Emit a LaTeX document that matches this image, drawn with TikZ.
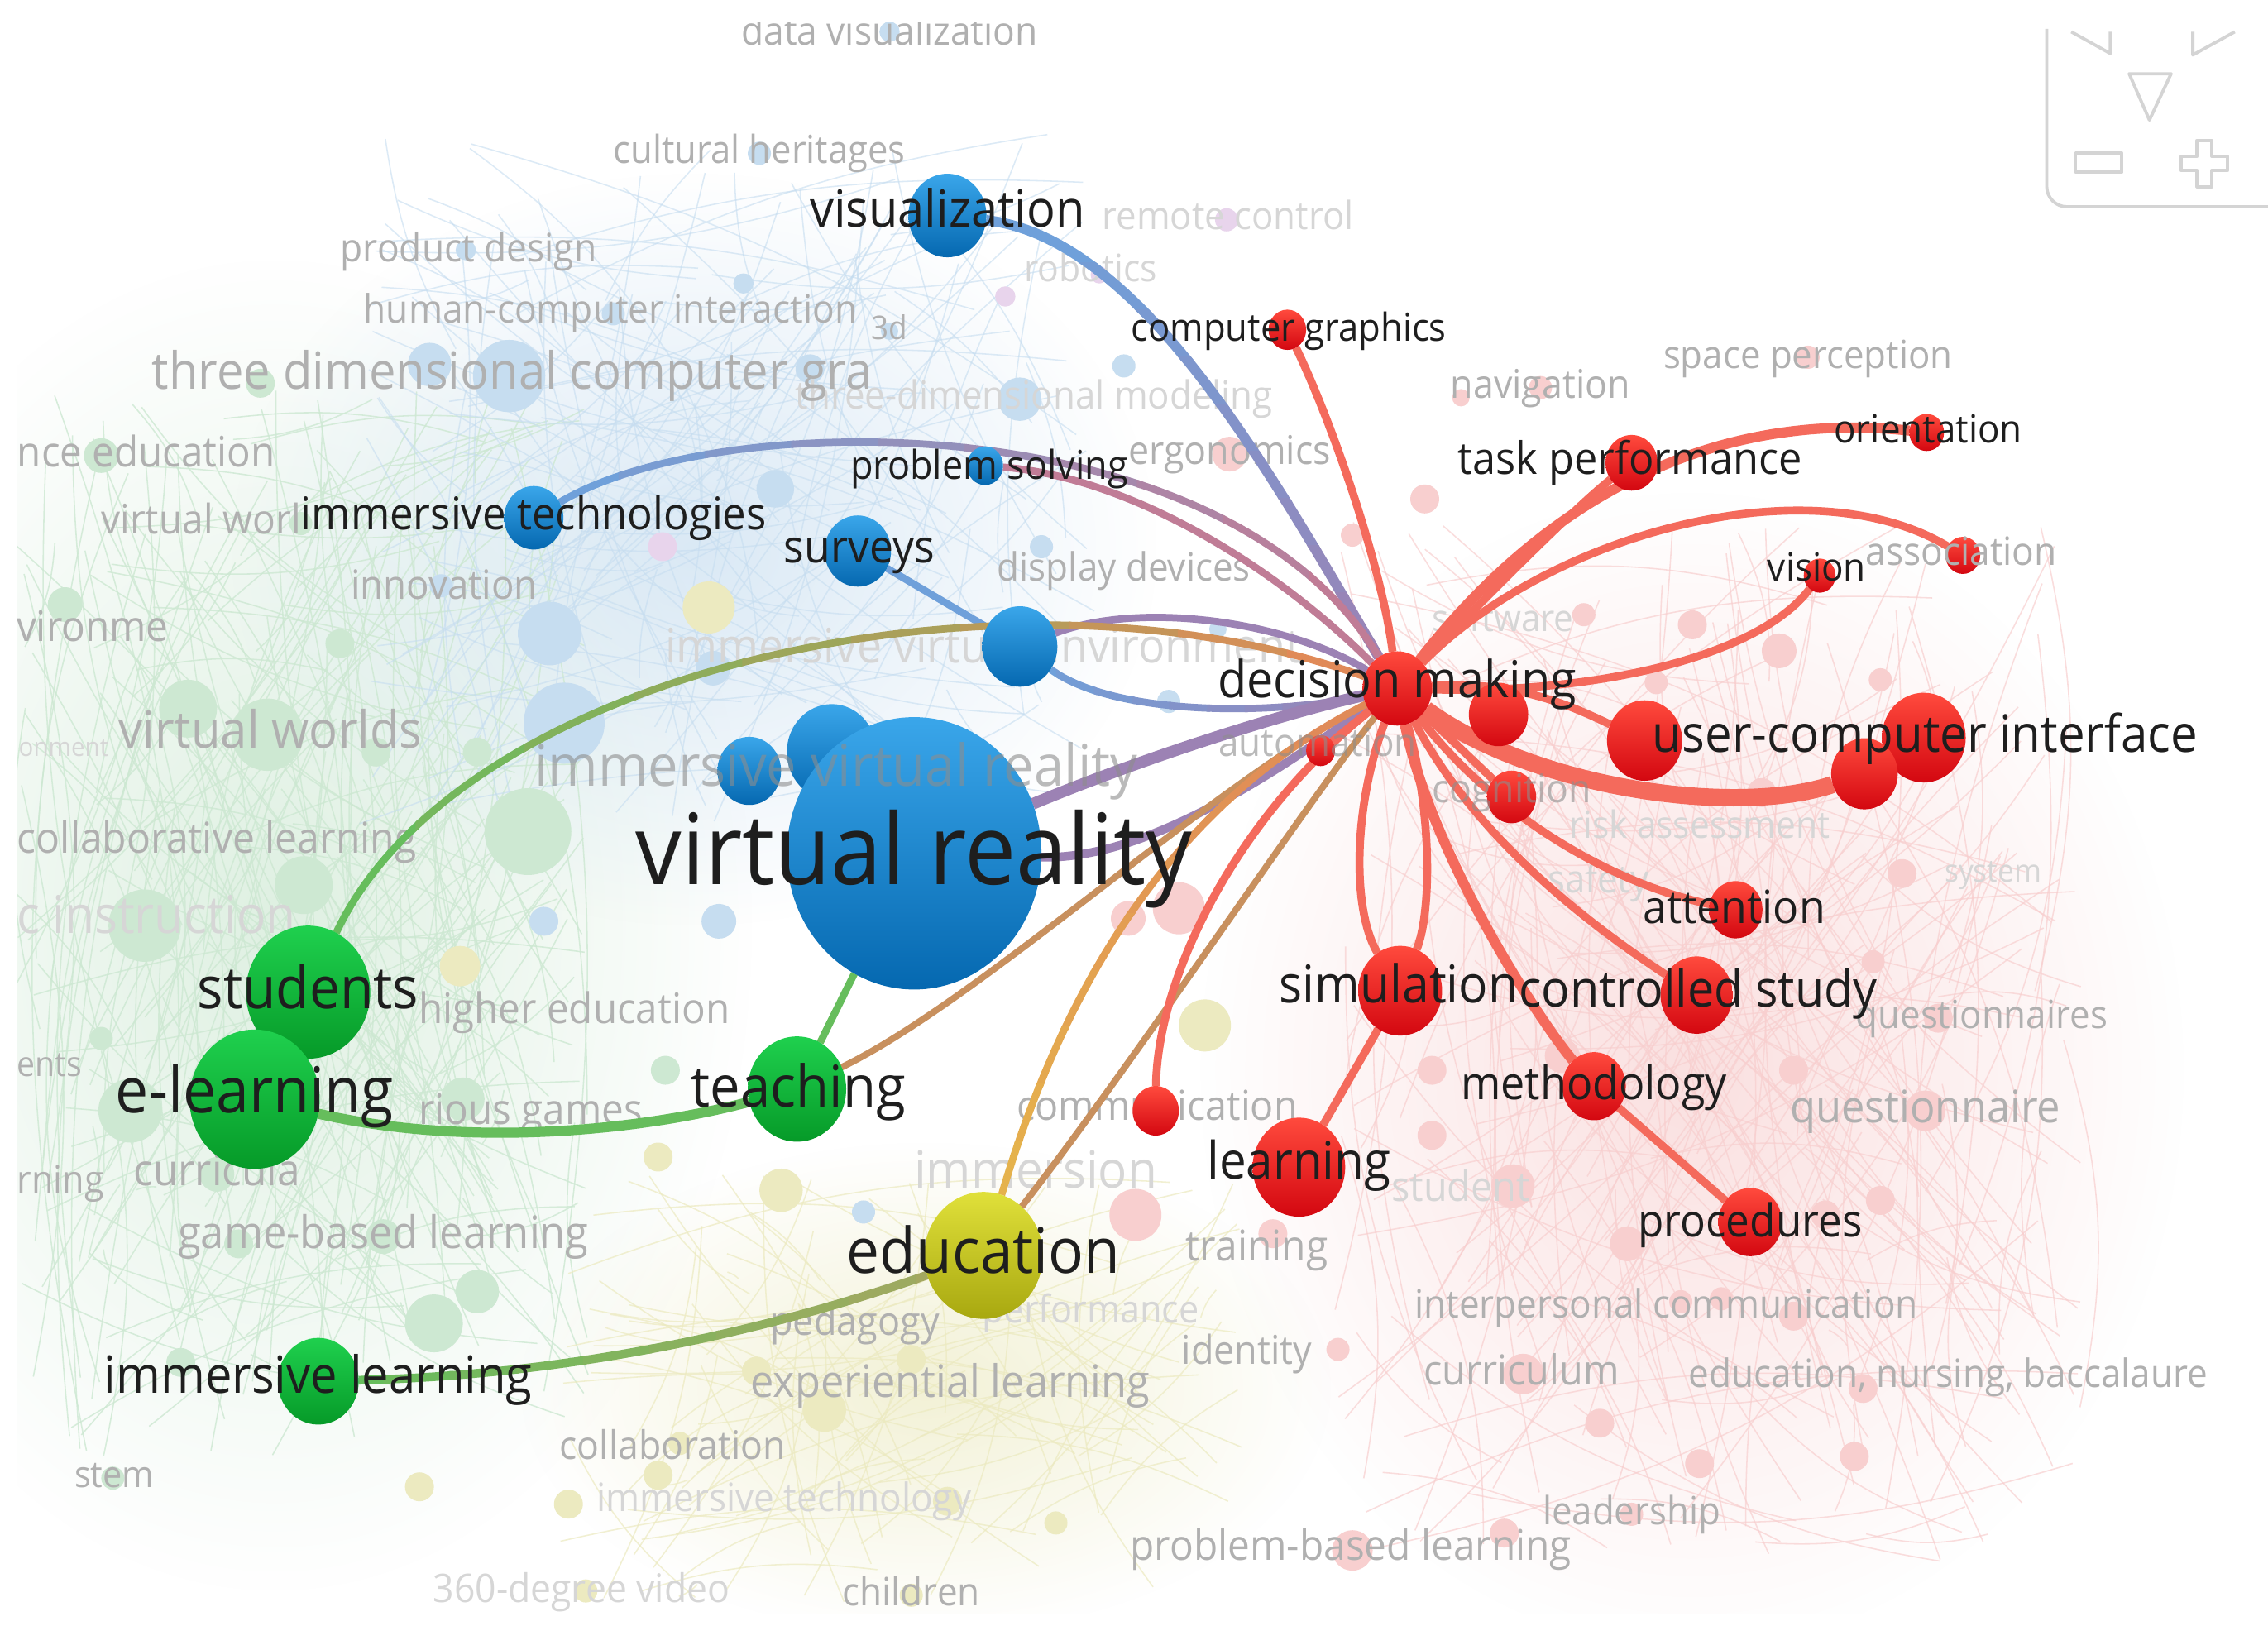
\documentclass[tikz,border=0pt]{standalone}
\usepackage{fontspec}
\usepackage{graphicx}
\setmainfont{Open Sans}
\usetikzlibrary{shapes.geometric,fadings}
\newlength\ux \setlength\ux{0.017487cm}
\newcommand\lbl[2]{\scalebox{1}[1.07]{\resizebox{#1\ux}{!}{\vphantom{dy}#2}}}
\definecolor{rtop}{HTML}{FF4A3D}
\definecolor{rbot}{HTML}{D30710}
\definecolor{btop}{HTML}{3AA6EA}
\definecolor{bbot}{HTML}{0568B0}
\definecolor{gtop}{HTML}{1FD04E}
\definecolor{gbot}{HTML}{069A28}
\definecolor{ytop}{HTML}{E0E03A}
\definecolor{ybot}{HTML}{A8A810}
\definecolor{eR}{HTML}{F46A5C}
\definecolor{eB}{HTML}{6FA0DA}
\definecolor{eP}{HTML}{9C82B4}
\definecolor{eM}{HTML}{C07C96}
\definecolor{eG}{HTML}{66BD5C}
\definecolor{eO}{HTML}{E08A58}
\definecolor{eY}{HTML}{E6B84A}
\definecolor{eBr}{HTML}{C8905E}
\definecolor{eOl}{HTML}{A4A860}
\definecolor{tx}{HTML}{1E1E1E}
\definecolor{gx}{HTML}{B0B0B0}
\definecolor{fx}{HTML}{D6D6D6}
\definecolor{fb}{HTML}{C6DDF0}
\definecolor{fg}{HTML}{CDE8D2}
\definecolor{fp}{HTML}{F8CFCF}
\definecolor{fy}{HTML}{ECEAC0}
\definecolor{fv}{HTML}{E8D4EC}
\definecolor{wgc}{HTML}{D4D4D4}
\tikzfading[name=softblob, inner color=transparent!35, outer color=transparent!100]
\newcommand\gradedge[7]{%
  \foreach \k in {0,...,9}{%
    \pgfmathsetmacro\ga{min(#2,#3)+abs(#3-#2)*\k/10-1}%
    \pgfmathsetmacro\gb{min(#2,#3)+abs(#3-#2)*(\k+1)/10+1}%
    \pgfmathtruncatemacro\gp{#2<#3 ? 100-\k*100/9 : \k*100/9}%
    \begin{scope}
      \ifx#1x\clip (\ga,-100) rectangle (\gb,1300);\else\clip (-100,\ga) rectangle (1700,\gb);\fi
      \draw[line width={#6*\ux}, color=#4!\gp!#5] #7;
    \end{scope}}}
\tikzset{
  knot/.style={ellipse, inner sep=0pt, outer sep=0pt, minimum width={2*#1*\ux}, minimum height={2.14*#1*\ux}},
  rn/.style={knot=#1, top color=rtop, bottom color=rbot},
  bn/.style={knot=#1, top color=btop, bottom color=bbot},
  gn/.style={knot=#1, top color=gtop, bottom color=gbot},
  yn/.style={knot=#1, top color=ytop, bottom color=ybot},
  fnode/.style={circle, inner sep=0pt, outer sep=0pt, minimum size={2*#1*\ux}},
  lab/.style={inner sep=0pt, text=tx},
  glab/.style={inner sep=0pt, text=gx},
  flab/.style={inner sep=0pt, text=fx},
  olab/.style={inner sep=0pt, text=gx!80!black, text opacity=0.6},
  rede/.style={draw=eR, line width={#1*\ux}},
  bgG/.style={draw=fg, line width={0.9*\ux}, opacity=0.8},
  bgB/.style={draw=fb, line width={0.9*\ux}, opacity=0.6},
  bgP/.style={draw=fp, line width={0.9*\ux}, opacity=0.7},
  bgY/.style={draw=fy, line width={0.9*\ux}, opacity=0.7},
  wg/.style={draw=wgc, line width={2.2*\ux}, line join=round}
}
\begin{document}
\begin{tikzpicture}[x=0.017487cm, y=-0.017487cm]
\useasboundingbox (0,0) rectangle (1568,1124);
\fill[white] (0,0) rectangle (1568,1124);
\begin{scope}
\clip (12,16) rectangle (1568,1116);
% soft cluster washes
\fill[fg, path fading=softblob] (190,640) ellipse [x radius=330, y radius=460];
\fill[fb, path fading=softblob] (480,380) ellipse [x radius=320, y radius=260];
\fill[fp, path fading=softblob] (1170,740) ellipse [x radius=340, y radius=400];
\fill[fy, path fading=softblob] (640,960) ellipse [x radius=280, y radius=170];
% faint network lines
\pgfmathsetseed{11}
\foreach \i in {1,...,230}{
  \pgfmathsetmacro\xa{210+200*rand}\pgfmathsetmacro\ya{640+370*rand}
  \pgfmathsetmacro\xb{210+200*rand}\pgfmathsetmacro\yb{640+370*rand}
  \draw[bgG] (\xa,\ya) to[bend left=12] (\xb,\yb);}
\foreach \i in {1,...,140}{
  \pgfmathsetmacro\xa{500+260*rand}\pgfmathsetmacro\ya{330+240*rand}
  \pgfmathsetmacro\xb{500+260*rand}\pgfmathsetmacro\yb{330+240*rand}
  \draw[bgB] (\xa,\ya) to[bend left=10] (\xb,\yb);}
\foreach \i in {1,...,200}{
  \pgfmathsetmacro\xa{1180+260*rand}\pgfmathsetmacro\ya{720+360*rand}
  \pgfmathsetmacro\xb{1180+260*rand}\pgfmathsetmacro\yb{720+360*rand}
  \draw[bgP] (\xa,\ya) to[bend right=14] (\xb,\yb);}
\foreach \i in {1,...,90}{
  \pgfmathsetmacro\xa{620+240*rand}\pgfmathsetmacro\ya{960+150*rand}
  \pgfmathsetmacro\xb{620+240*rand}\pgfmathsetmacro\yb{960+150*rand}
  \draw[bgY] (\xa,\ya) to[bend left=12] (\xb,\yb);}
% faint nodes
\foreach \x/\y/\r [count=\i] in {525/106/8,322/173/7,424/217/8,514/196/7,615/229/6,297/252/15,352/260/25,560/255/10,705/276/15,777/253/8,536/338/13,380/438/22,390/500/28,493/462/12,720/378/8,808/485/8,842/435/6,376/637/10,497/637/12,597/838/8,305/405/8,615/22/7}
  \node[fnode=\r, fill=fb] (fb\i) at (\x,\y) {};
\foreach \x/\y/\r [count=\i] in {180/265/10,70/315/12,208/362/8,45/418/12,235/445/10,185/508/25,130/490/20,330/520/10,365/575/30,260/520/10,100/640/25,210/612/20,225/678/12,90/768/22,320/760/15,165/860/10,330/893/15,300/915/20,125/942/10,78/1022/8,70/718/8,460/740/10,150/812/12,265/855/12}
  \node[fnode=\r, fill=fg] (fg\i) at (\x,\y) {};
\foreach \x/\y/\r [count=\i] in {490/420/18,318/668/14,455/800/10,540/823/15,833/709/18,630/940/10,570/975/15,455/1020/10,393/1040/10,290/1028/10,655/1038/10,730/1053/8,405/1100/8,630/1103/8,470/998/8,523/948/10}
  \node[fnode=\r, fill=fy] (fy\i) at (\x,\y) {};
\foreach \x/\y/\r [count=\i] in {850/314/12,985/345/10,935/370/8,1230/450/12,1170/432/10,1095/425/8,1145/472/8,1300/470/8,1218/548/10,1315/604/10,1295/665/8,1340/704/10,1331/768/14,1240/740/10,1080/730/12,1046/820/15,990/740/10,990/785/10,785/840/18,880/853/10,925/933/8,1125/860/12,1162/900/8,1262/840/10,1300/830/10,1053/950/14,1106/984/10,1190/898/8,1240/910/10,1288/960/10,1175/1012/10,1282/1007/10,1128/1047/8,935/1072/14,1040/1060/10,815/628/18,780/635/12,1065/268/8,1250/247/8,1010/275/6}
  \node[fnode=\r, fill=fp] (fp\i) at (\x,\y) {};
\foreach \x/\y/\r [count=\i] in {695/205/7,848/152/8,458/378/10,760/190/6}
  \node[fnode=\r, fill=fv] (fv\i) at (\x,\y) {};
% faded labels
\foreach \x/\y/\w/\t [count=\i] in {715/276/330/three-dimensional modeling,849/152/174/remote control,754/188/92/robotics,44/518/62/onment,108/636/193/c instruction,680/450/440/immersive virtual environment,1039/430/98/software,1175/573/180/risk assessment,1105/610/70/safety,1378/604/67/system,716/812/168/immersion,1010/823/96/student,754/908/150/performance,542/1038/259/immersive technology,402/1101/205/360-degree video}
  \node[flab] (f\i) at (\x,\y) {\lbl{\w}{\t}};
\foreach \x/\y/\w/\t [count=\i] in {615/24/205/data visualization,525/106/202/cultural heritages,324/174/177/product design,422/216/341/human-computer interaction,615/229/25/3d,354/260/498/three dimensional computer gra,850/314/140/ergonomics,1065/268/124/navigation,1250/248/200/space perception,777/395/175/display devices,101/315/178/nce education,139/362/138/virtual worl,307/407/129/innovation,64/436/105/vironme,187/508/210/virtual worlds,150/582/276/collaborative learning,397/700/215/higher education,34/738/45/ents,367/770/155/rious games,42/818/60/rning,150/812/115/curricula,265/855/284/game-based learning,79/1022/55/stem,1370/704/174/questionnaires,1331/768/187/questionnaire,800/767/194/communication,869/864/98/training,591/916/117/pedagogy,862/936/90/identity,657/958/276/experiential learning,1152/904/348/interpersonal communication,1052/950/135/curriculum,1347/952/359/{education, nursing, baccalaure},465/1002/156/collaboration,1128/1047/123/leadership,934/1071/305/problem-based learning,630/1103/95/children}
  \node[glab] (g\i) at (\x,\y) {\lbl{\w}{\t}};
% highlighted node positions
\path
  (632,590) node[knot=88] (vr) {}
  (575,520) node[knot=31] (ivr1) {}
  (518,533) node[knot=22] (ivr2) {}
  (705,447) node[knot=26] (nB) {}
  (593,381) node[knot=23] (sur) {}
  (369,358) node[knot=20.5] (imt) {}
  (681,322) node[knot=12.5] (ps) {}
  (655,149) node[knot=27] (viz) {}
  (213,686) node[knot=43] (stu) {}
  (176,760) node[knot=45] (el) {}
  (551,753) node[knot=34] (tea) {}
  (220,955) node[knot=28] (il) {}
  (680,868) node[knot=41] (edu) {}
  (966,476) node[knot=24] (dm) {}
  (1036,494) node[knot=20.5] (n1) {}
  (1137,512) node[knot=26] (uc1) {}
  (1330,510) node[knot=29] (uc2) {}
  (1289,535) node[knot=23] (uc3) {}
  (1045,551) node[knot=17] (cog) {}
  (913,519) node[knot=10] (aut) {}
  (890,228) node[knot=13] (cg) {}
  (1128,320) node[knot=18] (tp) {}
  (1332,299) node[knot=12] (ori) {}
  (1357,384) node[knot=12] (asc) {}
  (1258,398) node[knot=11] (vis) {}
  (1200,629) node[knot=18.5] (att) {}
  (1173,688) node[knot=25] (cst) {}
  (968,685) node[knot=29] (sim) {}
  (1102,751) node[knot=22] (meth) {}
  (1210,845) node[knot=22] (proc) {}
  (898,807) node[knot=32] (lrn) {}
  (799,768) node[knot=16] (com) {};
% highlighted connectors
\gradedge{y}{150}{476}{eB}{eP}{7}{(viz) .. controls (790,165) and (880,330) .. (dm)}
\gradedge{x}{369}{966}{eB}{eM}{5}{(imt) .. controls (500,280) and (850,280) .. (dm)}
\draw[line width=5\ux, color=eM] (ps) .. controls (780,330) and (880,390) .. (dm);
\draw[line width=5\ux, color=eB] (sur) -- (nB);
\draw[line width=5\ux, color=eP] (nB) .. controls (790,415) and (890,430) .. (dm);
\gradedge{x}{705}{966}{eB}{eP}{5}{(nB) .. controls (770,495) and (880,495) .. (dm)}
\draw[line width=8\ux, color=eP] (vr) .. controls (800,520) and (900,490) .. (dm);
\draw[line width=6\ux, color=eP] (vr) .. controls (800,595) and (900,520) .. (dm);
\gradedge{x}{213}{966}{eG}{eO}{5}{(stu) .. controls (320,460) and (700,380) .. (dm)}
\draw[line width=4.5\ux, color=eBr] (tea) .. controls (680,690) and (840,540) .. (dm);
\gradedge{y}{868}{476}{eY}{eO}{5}{(edu) .. controls (730,700) and (800,560) .. (dm)}
\draw[line width=4.5\ux, color=eBr] (edu) .. controls (780,740) and (900,560) .. (dm);
\draw[line width=5\ux, color=eG] (tea) -- (vr);
\draw[line width=7\ux, color=eG] (el) .. controls (330,795) and (450,780) .. (tea);
\gradedge{x}{220}{680}{eG}{eOl}{6}{(il) .. controls (420,950) and (560,910) .. (edu)}
\draw[rede=5.5] (cg) .. controls (920,290) and (955,390) .. (dm);
\draw[rede=5.5] (dm) .. controls (1030,410) and (1090,350) .. (tp);
\draw[rede=7] (dm) .. controls (1080,330) and (1200,285) .. (ori);
\draw[rede=5.5] (dm) .. controls (1070,370) and (1250,320) .. (asc);
\draw[rede=5.5] (dm) .. controls (1100,480) and (1215,455) .. (vis);
\draw[rede=5.5] (dm) .. controls (1050,470) and (1090,490) .. (uc1);
\draw[rede=12] (dm) .. controls (1060,545) and (1200,565) .. (uc3);
\draw[rede=5.5] (dm) -- (cog);
\draw[rede=5.5] (dm) -- (aut);
\draw[rede=5.5] (dm) .. controls (1030,560) and (1110,610) .. (att);
\draw[rede=5.5] (dm) .. controls (1020,580) and (1100,640) .. (cst);
\draw[rede=7] (dm) .. controls (990,590) and (1060,700) .. (meth);
\draw[rede=5.5] (meth) -- (proc);
\draw[rede=5.5] (dm) .. controls (935,560) and (935,630) .. (sim);
\draw[rede=5.5] (dm) .. controls (990,560) and (990,630) .. (sim);
\draw[rede=5.5] (sim) -- (lrn);
\draw[rede=5.5] (dm) .. controls (850,570) and (800,680) .. (com);
% node fills
\foreach \n/\s in {ivr1/31,ivr2/22,vr/88,nB/26,sur/23,imt/20.5,ps/12.5,viz/27}
  \path (\n.center) node[bn=\s] (b-\n) {};
\foreach \n/\s in {stu/43,el/45,tea/34,il/28}
  \path (\n.center) node[gn=\s] (g-\n) {};
\path (edu.center) node[yn=41] (y-edu) {};
\foreach \n/\s in {dm/24,n1/20.5,uc1/26,uc2/29,uc3/23,cog/17,aut/10,cg/13,tp/18,ori/12,asc/12,vis/11,att/18.5,cst/25,sim/29,meth/22,proc/22,lrn/32,com/16}
  \path (\n.center) node[rn=\s] (r-\n) {};
% labels over nodes
\node[olab] (o1) at (578,533) {\lbl{417}{immersive virtual reality}};
\node[olab] (o2) at (911,516) {\lbl{137}{automation}};
\node[olab] (o3) at (1045,548) {\lbl{110}{cognition}};
\node[glab] (o4) at (1356,384) {\lbl{132}{association}};
\foreach \x/\y/\w/\t [count=\i] in {632/594/385/virtual reality,655/148/190/visualization,966/473/248/decision making,1331/511/377/user-computer interface,1127/320/238/task performance,891/229/218/computer graphics,684/324/192/problem solving,369/358/322/immersive technologies,594/381/104/surveys,1333/299/130/orientation,1256/395/68/vision,1199/630/126/attention,967/684/165/simulation,1174/687/248/controlled study,1102/752/184/methodology,1210/847/155/procedures,898/806/127/learning,213/687/153/students,176/758/192/e-learning,552/755/148/teaching,680/869/189/education,220/954/296/immersive learning}
  \node[lab] (l\i) at (\x,\y) {\lbl{\w}{\t}};
\end{scope}
% view control widget
\draw[wg, rounded corners=7pt] (1415,20) -- (1415,143) -- (1580,143);
\draw[wg] (1432,22) -- (1459,37) -- (1459,22);
\draw[wg] (1545,22) -- (1516,38) -- (1516,22);
\draw[wg] (1472,51) -- (1501,51) -- (1486,83) -- cycle;
\draw[wg] (1435,106) rectangle (1467,119);
\draw[wg] (1519,97) -- (1529,97) -- (1529,108) -- (1540,108) -- (1540,118) -- (1529,118) -- (1529,129) -- (1519,129) -- (1519,118) -- (1508,118) -- (1508,108) -- (1519,108) -- cycle;
\end{tikzpicture}
\end{document}
